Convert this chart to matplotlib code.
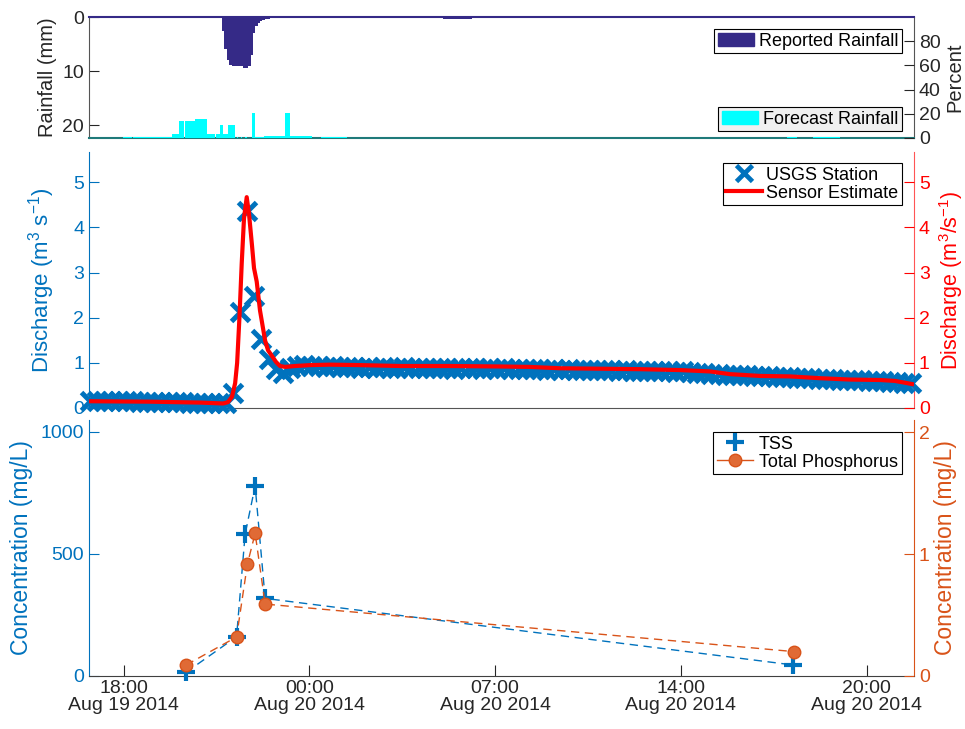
import numpy as np
import matplotlib
matplotlib.use('Agg')
import matplotlib.pyplot as plt
from matplotlib.patches import Patch
from matplotlib.lines import Line2D

plt.rcParams['font.family'] = ['Liberation Sans', 'DejaVu Sans']
plt.rcParams['mathtext.default'] = 'regular'

# ---------------- data (time axis in hours from Aug 19 2014 00:00, chart scale) ----------------
x_tick_pos = [18, 24.5, 31, 37.5, 44]
x_tick_labels = ['18:00\nAug 19 2014', '00:00\nAug 20 2014', '07:00\nAug 20 2014',
                 '14:00\nAug 20 2014', '20:00\nAug 20 2014']

# reported rainfall, 5-minute bins (left edge times)
rain_time_h = [21.44 + k / 12 for k in range(20)] + [29.18 + k / 12 for k in range(12)]
rain_mm = [2.5, 6.0, 8.0, 8.8, 9.0, 9.0, 9.0, 9.0, 9.0, 9.5, 9.5, 9.0, 7.0, 3.0, 1.7,
           1.2, 0.8, 0.6, 0.4, 0.3,
           0.3, 0.3, 0.3, 0.3, 0.3, 0.3, 0.3, 0.3, 0.3, 0.3, 0.3, 0.3]

# forecast rainfall (percent), segments
fc_start = [17.99, 18.33, 19.68, 19.95, 20.14, 20.50, 20.93, 21.23, 21.37, 21.49, 21.64, 21.80,
            21.95, 22.10, 22.25, 22.48, 22.60, 22.92, 23.65, 23.82, 24.90, 41.21, 42.13]
fc_end = [18.28, 19.68, 19.95, 20.12, 20.50, 20.93, 21.20, 21.37, 21.49, 21.64, 21.79, 21.90,
          22.00, 22.15, 22.30, 22.60, 22.92, 23.65, 23.82, 24.60, 25.80, 41.56, 43.07]
fc_pct = [1, 1, 3.3, 14, 14, 16, 3.3, 3.3, 10.7, 3.3, 10.7, 10.7,
          1, 1, 1, 21, 1, 2, 21, 1.5, 1.2, 1, 1]

# USGS station discharge, 15-minute readings
usgs_time_h = 16.82 + 0.25 * np.arange(116)
usgs_q = [0.16, 0.16, 0.16, 0.15, 0.15, 0.15, 0.15, 0.14, 0.14, 0.14,
          0.14, 0.13, 0.13, 0.13, 0.12, 0.12, 0.12, 0.11, 0.11, 0.11,
          0.34, 2.13, 4.36, 2.49, 1.53, 1.09, 0.86, 0.78,
          0.88, 0.93, 0.95, 0.93, 0.92, 0.91, 0.92, 0.90,
          0.90, 0.91, 0.89, 0.90, 0.89, 0.90, 0.88, 0.89, 0.90, 0.89,
          0.88, 0.89, 0.88, 0.89, 0.88, 0.87, 0.88, 0.89, 0.88, 0.87,
          0.88, 0.87, 0.88, 0.86, 0.87, 0.86, 0.87, 0.86, 0.85, 0.86,
          0.85, 0.86, 0.85, 0.84, 0.85, 0.84, 0.85, 0.84, 0.83, 0.84,
          0.83, 0.82, 0.83, 0.82, 0.81, 0.82, 0.80, 0.81, 0.79, 0.78,
          0.77, 0.76, 0.75, 0.74, 0.73, 0.72, 0.72, 0.71, 0.70, 0.70,
          0.69, 0.68, 0.68, 0.67, 0.66, 0.66, 0.65, 0.64, 0.64, 0.63,
          0.62, 0.62, 0.61, 0.60, 0.60, 0.59, 0.58, 0.57, 0.56, 0.55]

# sensor estimate
sensor_time_h = [16.79, 18.92, 20.67, 21.48, 21.65, 21.79, 21.90, 21.97, 22.05, 22.13, 22.21,
                 22.305, 22.385, 22.49, 22.56, 22.655, 22.77, 22.88, 22.95, 23.05, 23.18,
                 23.33, 23.47, 23.65, 24.0, 24.52, 25.22, 26.27, 27.67, 29.42, 31.17,
                 32.22, 33.27, 34.67, 36.07, 37.47, 38.52, 39.22, 40.27, 41.32, 42.37,
                 43.42, 44.47, 44.99, 45.34, 45.59]
sensor_q = [0.15, 0.14, 0.12, 0.10, 0.13, 0.25, 0.55, 1.0, 2.0, 3.2, 4.2,
            4.67, 4.3, 3.6, 3.1, 2.8, 2.16, 1.75, 1.49, 1.28, 1.16,
            1.02, 0.93, 0.91, 0.93, 0.95, 0.96, 0.95, 0.93, 0.93, 0.92,
            0.91, 0.88, 0.87, 0.86, 0.84, 0.81, 0.75, 0.71, 0.70, 0.66,
            0.63, 0.62, 0.60, 0.56, 0.53]

# water quality samples
tss_time_h = [20.18, 21.95, 22.25, 22.60, 22.95, 41.44]
tss_mgL = [15, 161, 582, 779, 318, 45]
tp_time_h = [20.18, 21.95, 22.33, 22.60, 22.95, 41.46]
tp_mgL = [0.09, 0.32, 0.92, 1.17, 0.59, 0.20]

# ---------------- styling ----------------
NAVY = '#352A87'
CYAN = '#00FFFF'
BLUE = '#0072BD'
RED = '#FF0000'
ORANGE = '#D95319'
DARK = '#262626'
TICK_FS = 14
LEG_FS = 13

fig = plt.figure(figsize=(9.65, 7.29), dpi=100)
L, W = 89 / 965, 825 / 965


def ax_rect(top_px, bot_px):
    return [L, 1 - bot_px / 729, W, (bot_px - top_px) / 729]


ax_top = fig.add_axes(ax_rect(17, 138))
ax_mid = fig.add_axes(ax_rect(152, 408), sharex=ax_top)
ax_bot = fig.add_axes(ax_rect(420, 676), sharex=ax_top)
ax_top_r = ax_top.twinx()
ax_mid_r = ax_mid.twinx()
ax_bot_r = ax_bot.twinx()

xlim = (16.785, 45.66)

# ---- top panel ----
ax_top.bar(rain_time_h, rain_mm, width=1 / 12, align='edge', color=NAVY,
           linewidth=0, antialiased=False, label='Reported Rainfall')
ax_top.set_ylim(22.4, 0)
ax_top.set_yticks([0, 10, 20])
ax_top_r.bar(fc_start, fc_pct, width=np.subtract(fc_end, fc_start), align='edge',
             color=CYAN, linewidth=0, antialiased=False, label='Forecast Rainfall')
ax_top_r.set_ylim(0, 100)
ax_top_r.set_yticks([0, 20, 40, 60, 80])
ax_top.set_xlim(*xlim)

for a in (ax_top, ax_top_r):
    a.tick_params(axis='y', direction='in', length=7, labelsize=TICK_FS,
                  colors=DARK, width=0.8)
    a.tick_params(axis='x', bottom=False, labelbottom=False)
for s in ax_top_r.spines.values():
    s.set_visible(False)
ax_top.spines['top'].set_color(NAVY)
ax_top.spines['top'].set_linewidth(1.5)
ax_top.spines['bottom'].set_color('#1F7A7A')
ax_top.spines['bottom'].set_linewidth(1.5)
ax_top.spines['left'].set_color('#555555')
ax_top.spines['right'].set_color('#555555')
for k in ('left', 'right'):
    ax_top.spines[k].set_linewidth(0.8)
ax_top.set_ylabel('Rainfall (mm)', fontsize=14.5, color=DARK)
ax_top.yaxis.set_label_coords(-0.039, 0.5)
ax_top_r.set_ylabel('Percent', fontsize=14.5, color=DARK)
ax_top_r.yaxis.set_label_coords(1.0376, 0.5)

leg1 = ax_top.legend(handles=[Patch(facecolor=NAVY, edgecolor=NAVY)],
                     labels=['Reported Rainfall'], loc='upper right',
                     bbox_to_anchor=(0.985, 0.901), fontsize=LEG_FS, fancybox=False,
                     edgecolor='black', framealpha=1, borderaxespad=0, borderpad=0.2,
                     handlelength=2.0, handleheight=0.75, handletextpad=0.25)
leg1.get_frame().set_linewidth(0.8)
leg2 = ax_top_r.legend(handles=[Patch(facecolor=CYAN, edgecolor=CYAN)],
                       labels=['Forecast Rainfall'], loc='upper right',
                       bbox_to_anchor=(0.985, 0.256), fontsize=LEG_FS, fancybox=False,
                       edgecolor='black', facecolor='#F0F0F0', framealpha=1,
                       borderaxespad=0, borderpad=0.2, handlelength=2.0,
                       handleheight=0.75, handletextpad=0.25)
leg2.get_frame().set_linewidth(0.8)

# ---- middle panel ----
ax_mid.plot(usgs_time_h, usgs_q, linestyle='none', marker='x', color=BLUE,
            markersize=12.5, markeredgewidth=3.6, clip_on=False, zorder=3)
ax_mid_r.plot(sensor_time_h, sensor_q, color=RED, linewidth=3)
ax_mid.set_ylim(0, 5.67)
ax_mid_r.set_ylim(0, 5.67)
ax_mid.set_yticks([0, 1, 2, 3, 4, 5])
ax_mid_r.set_yticks([0, 1, 2, 3, 4, 5])
ax_mid.tick_params(axis='y', direction='in', length=7, labelsize=TICK_FS,
                   colors=BLUE, width=0.8)
ax_mid_r.tick_params(axis='y', direction='in', length=7, labelsize=TICK_FS,
                     colors=RED, width=0.8)
ax_mid.tick_params(axis='x', bottom=False, labelbottom=False)
for s in ax_mid_r.spines.values():
    s.set_visible(False)
ax_mid.spines['top'].set_visible(False)
ax_mid.spines['left'].set_color(BLUE)
ax_mid.spines['right'].set_color('#FF5555')
ax_mid.spines['bottom'].set_color('#555555')
for s in ax_mid.spines.values():
    s.set_linewidth(0.8)
ax_mid.set_ylabel('Discharge (m$^{3}$ s$^{-1}$)', fontsize=16, color=BLUE)
ax_mid.yaxis.set_label_coords(-0.039, 0.5)
ax_mid_r.set_ylabel('Discharge (m$^{3}$/s$^{-1}$)', fontsize=15.5, color=RED)
ax_mid_r.yaxis.set_label_coords(1.0285, 0.5)

leg3 = ax_mid_r.legend(handles=[Line2D([], [], linestyle='none', marker='x', color=BLUE,
                                       markersize=12, markeredgewidth=3.4),
                                Line2D([], [], color=RED, linewidth=3)],
                       labels=['USGS Station', 'Sensor Estimate'], loc='upper right',
                       bbox_to_anchor=(0.985, 0.957), fontsize=LEG_FS, fancybox=False,
                       edgecolor='black', framealpha=1, borderaxespad=0, borderpad=0.2,
                       handlelength=2.0, handletextpad=0.2, labelspacing=0.05)
leg3.get_frame().set_linewidth(0.8)

# ---- bottom panel ----
ax_bot.plot(tss_time_h, tss_mgL, linestyle=(0, (6, 4)), linewidth=1, color=BLUE,
            marker='+', markersize=13, markeredgewidth=3, clip_on=False, zorder=3)
ax_bot_r.plot(tp_time_h, tp_mgL, linestyle=(0, (6, 4)), linewidth=1, color=ORANGE,
              marker='o', markersize=9, markerfacecolor='#E06A35',
              markeredgecolor=ORANGE, clip_on=False)
ax_bot.set_ylim(0, 1049)
ax_bot_r.set_ylim(0, 2.1)
ax_bot.set_yticks([0, 500, 1000])
ax_bot_r.set_yticks([0, 1, 2])
ax_bot.tick_params(axis='y', direction='in', length=7, labelsize=TICK_FS,
                   colors=BLUE, width=0.8)
ax_bot_r.tick_params(axis='y', direction='in', length=7, labelsize=TICK_FS,
                     colors=ORANGE, width=0.8)
ax_bot.set_xticks(x_tick_pos)
ax_bot.set_xticklabels(x_tick_labels)
ax_bot.tick_params(axis='x', direction='in', length=8, labelsize=TICK_FS,
                   colors=DARK, width=0.8, pad=3)
for lab in ax_bot.get_xticklabels():
    lab.set_linespacing(0.95)
for s in ax_bot_r.spines.values():
    s.set_visible(False)
ax_bot.spines['top'].set_visible(False)
ax_bot.spines['left'].set_color(BLUE)
ax_bot.spines['right'].set_color(ORANGE)
ax_bot.spines['bottom'].set_color('#404040')
for s in ax_bot.spines.values():
    s.set_linewidth(0.8)
ax_bot.set_ylabel('Concentration (mg/L)', fontsize=16.5, color=BLUE)
ax_bot.yaxis.set_label_coords(-0.068, 0.5)
ax_bot_r.set_ylabel('Concentration (mg/L)', fontsize=16.5, color=ORANGE)
ax_bot_r.yaxis.set_label_coords(1.0242, 0.5)
ax_bot.set_xlim(*xlim)

leg4 = ax_bot_r.legend(handles=[Line2D([], [], linestyle='none', marker='+', color=BLUE,
                                       markersize=13, markeredgewidth=3),
                                Line2D([], [], color=ORANGE, linewidth=1, marker='o',
                                       markersize=9, markerfacecolor='#E06A35',
                                       markeredgecolor=ORANGE)],
                       labels=['TSS', 'Total Phosphorus'], loc='upper right',
                       bbox_to_anchor=(0.985, 0.953), fontsize=LEG_FS, fancybox=False,
                       edgecolor='black', framealpha=1, borderaxespad=0, borderpad=0.2,
                       handlelength=2.0, handletextpad=0.35, labelspacing=0.05)
leg4.get_frame().set_linewidth(0.8)

fig.savefig('out.png', dpi=100)
